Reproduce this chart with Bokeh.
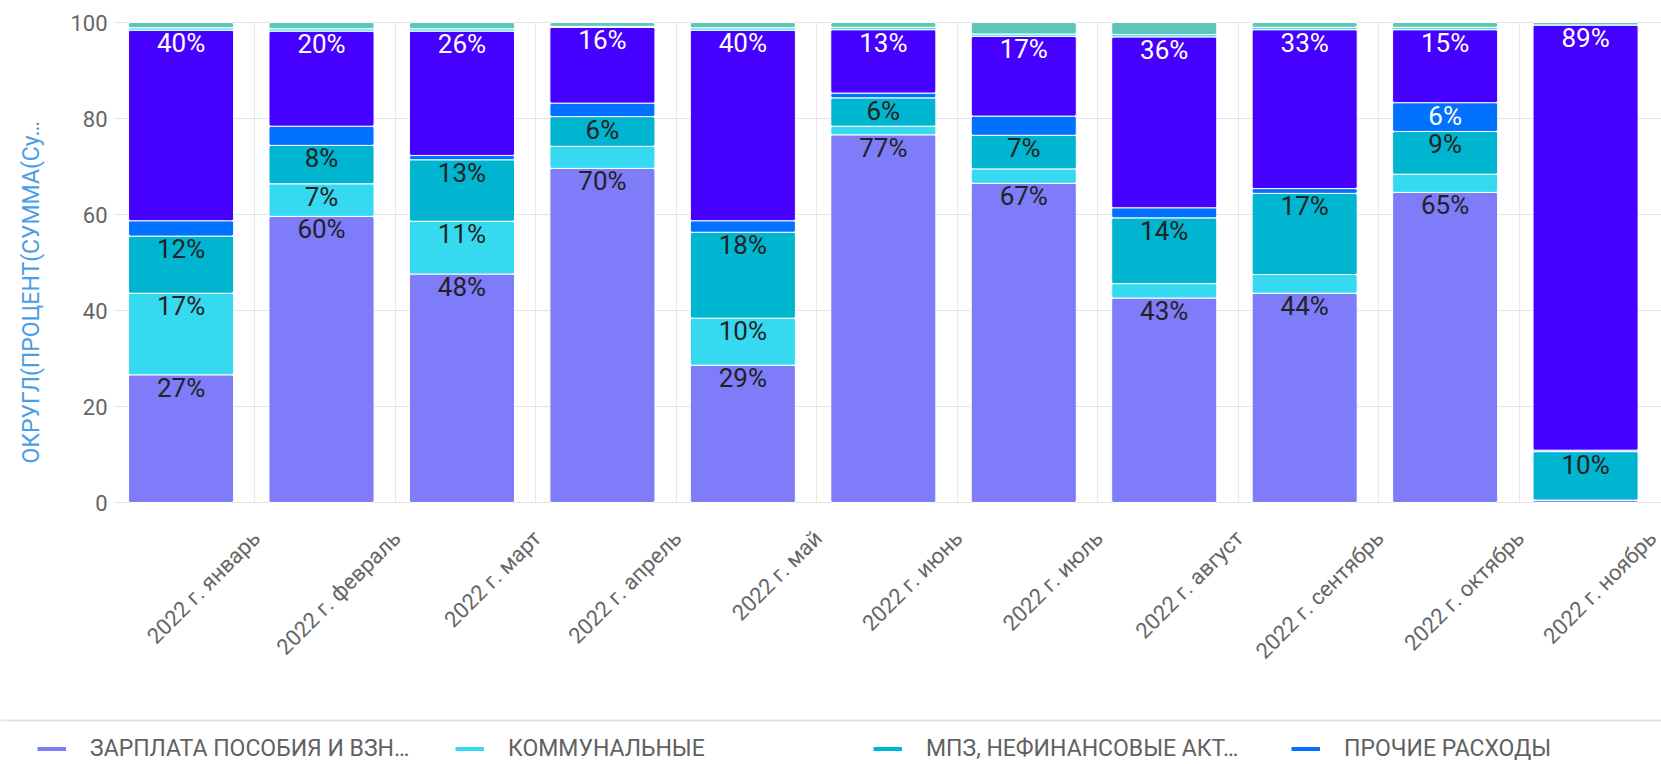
import math

from bokeh.core.properties import value
from bokeh.embed import file_html
from bokeh.models import (ColumnDataSource, FixedTicker, Grid, Label, Legend,
                          LegendItem, LinearAxis, Range1d, Span)
from bokeh.plotting import figure
from bokeh.resources import INLINE
from bokeh.transform import dodge, stack

# ---- data: share of each expense group per month, % of the month's total ----
months = [
    "2022 г. январь", "2022 г. февраль", "2022 г. март", "2022 г. апрель",
    "2022 г. май", "2022 г. июнь", "2022 г. июль", "2022 г. август",
    "2022 г. сентябрь", "2022 г. октябрь", "2022 г. ноябрь",
]
zarplata = [26.6, 59.6, 47.6, 69.6, 28.6, 76.6, 66.5, 42.6, 43.6, 64.6, 0.4]
kommunal = [17.0, 6.8, 11.0, 4.6, 9.8, 1.8, 3.0, 3.0, 3.9, 3.8, 0.1]
mpz = [11.9, 8.0, 12.8, 6.2, 17.9, 5.9, 7.0, 13.7, 16.9, 8.9, 10.1]
prochie = [3.2, 4.0, 0.9, 2.8, 2.4, 1.0, 4.0, 2.1, 1.0, 6.0, 0.3]
group5 = [39.7, 19.8, 25.9, 15.8, 39.7, 13.2, 16.6, 35.6, 33.1, 15.2, 88.6]
group6 = [0.5, 0.5, 0.5, 0.2, 0.5, 0.5, 0.5, 0.5, 0.5, 0.5, 0.0]
group7 = [1.1, 1.3, 1.3, 0.8, 1.1, 1.0, 2.4, 2.5, 1.0, 1.0, 0.5]

legend_names = [
    "ЗАРПЛАТА ПОСОБИЯ И ВЗН…",
    "КОММУНАЛЬНЫЕ",
    "МПЗ, НЕФИНАНСОВЫЕ АКТ…",
    "ПРОЧИЕ РАСХОДЫ",
]
y_title = "ОКРУГЛ(ПРОЦЕНТ(СУММА(Су…"
y_ticks = [0, 20, 40, 60, 80, 100]

series = ["zarplata", "kommunal", "mpz", "prochie", "group5", "group6", "group7"]
colors = ["#7F7CFA", "#35DAF0", "#00B5CF", "#0072FF", "#4600FF", "#3FE6F2", "#5CC7B6"]
label_colors = ["#222222", "#222222", "#222222", "#FFFFFF", "#FFFFFF"]

# ---- page geometry (pixels) ----
W, H = 1661, 764
PLOT_LEFT = 114          # left edge of the bar area
PLOT_TOP = 22            # where 100 % sits
BASE_Y = 502             # where 0 % sits
SEP_Y = 720              # rule above the legend
CAT_PX = 140.45          # width of one month slot
PX_PER_PCT = (BASE_Y - PLOT_TOP) / 100.0

FONT = "Roboto"
BAR_SHIFT = -0.026
BAR_WIDTH = 0.748
MONTH_LABEL_SHIFT = 0.51  # slanted month names end right of the slot centre

x_start = -0.5 - PLOT_LEFT / CAT_PX
x_end = x_start + W / CAT_PX
y_end = 100 + PLOT_TOP / PX_PER_PCT
y_start = y_end - H / PX_PER_PCT


def pct_labels(vals):
    # segments under 5 % are left unlabelled
    return [f"{int(v + 0.5)}%" if v >= 5 else "" for v in vals]


data = dict(
    x=list(range(len(months))), month=months,
    zarplata=zarplata, kommunal=kommunal, mpz=mpz, prochie=prochie,
    group5=group5, group6=group6, group7=group7,
)
for name in series:
    data[name + "_lbl"] = pct_labels(data[name])
src = ColumnDataSource(data)

p = figure(
    width=W, height=H, title=None,
    x_range=Range1d(x_start, x_end), y_range=Range1d(y_start, y_end),
    x_axis_type=None, output_backend="svg", toolbar_location=None,
    min_border_left=0, min_border_right=0, min_border_top=0, min_border_bottom=0,
)
p.outline_line_color = None
p.background_fill_color = "white"
p.border_fill_color = "white"

# grid lines limited to the bar area
p.add_layout(Grid(
    dimension=0, ticker=FixedTicker(ticks=[i + 0.5 for i in range(len(months) - 1)]),
    cross_bounds=(0, 100), grid_line_color="#E8E8E8", grid_line_width=1,
))
p.ygrid.ticker = FixedTicker(ticks=y_ticks)
p.ygrid.cross_bounds = (-0.5, x_end)
p.ygrid.grid_line_color = "#E2E2E2"
p.ygrid.grid_line_width = 1

# stacked bars
p.vbar_stack(
    series, x=dodge("x", BAR_SHIFT), width=BAR_WIDTH, source=src,
    fill_color=colors, line_color="white", line_width=1, border_radius=2,
)

# percentage labels at the top of each segment
for k, name in enumerate(series[:5]):
    p.text(
        x=dodge("x", BAR_SHIFT), y=stack(*series[: k + 1]), text=name + "_lbl",
        source=src, text_align="center", text_baseline="alphabetic", y_offset=13,
        text_font=value(FONT), text_font_size="26px", text_color=label_colors[k],
    )

# y axis pinned to the left edge of the bar area
p.yaxis.fixed_location = -0.5
p.yaxis.ticker = FixedTicker(ticks=y_ticks)
p.yaxis.axis_line_color = None
p.yaxis.major_tick_line_color = None
p.yaxis.minor_tick_line_color = None
p.yaxis.major_tick_out = 0
p.yaxis.major_tick_in = 0
p.yaxis.major_label_standoff = 7
p.yaxis.major_label_text_font = FONT
p.yaxis.major_label_text_font_size = "22px"
p.yaxis.major_label_text_color = "#666666"

p.add_layout(Label(
    x=x_start + 31 / CAT_PX, y=(BASE_Y - 463) / PX_PER_PCT, text=y_title,
    angle=math.pi / 2, text_align="left", text_baseline="middle",
    text_font=FONT, text_font_size="23px", text_color="#4A9EE6",
))

# slanted month names on an axis pinned at 0 %
tick_pos = [min(i + MONTH_LABEL_SHIFT, x_end - 1e-6) for i in range(len(months))]
month_axis = LinearAxis(
    ticker=FixedTicker(ticks=tick_pos),
    major_label_overrides={t: m for t, m in zip(tick_pos, months)},
    fixed_location=0, major_label_orientation=math.pi / 4,
    axis_line_color=None, major_tick_line_color=None, minor_tick_line_color=None,
    major_tick_out=0, major_tick_in=0, major_label_standoff=32,
    major_label_text_font=FONT, major_label_text_font_size="22px",
    major_label_text_color="#666666",
)
p.add_layout(month_axis, "below")

# rule above the legend
p.add_layout(Span(location=-(SEP_Y - BASE_Y) / PX_PER_PCT, dimension="width",
                  line_color="#E4E4E4", line_width=2))

# legend: short line swatches, fixed-width columns
swatches = []
for k in range(4):
    r = p.line(x="x", y=stack(*series[: k + 1]), source=src,
               line_color=colors[k], line_width=4, visible=False)
    swatches.append(r)

legend = Legend(
    items=[LegendItem(label=n, renderers=[r]) for n, r in zip(legend_names, swatches)],
    location=(37, 2), orientation="horizontal",
    padding=0, spacing=0, margin=0, border_line_color=None, background_fill_alpha=0,
    glyph_width=29, glyph_height=27, label_height=27, label_width=365, label_standoff=24,
    label_text_font=FONT, label_text_font_size="23px", label_text_color="#616161",
)
p.add_layout(legend)

open("out.html", "w").write(file_html(p, INLINE))
